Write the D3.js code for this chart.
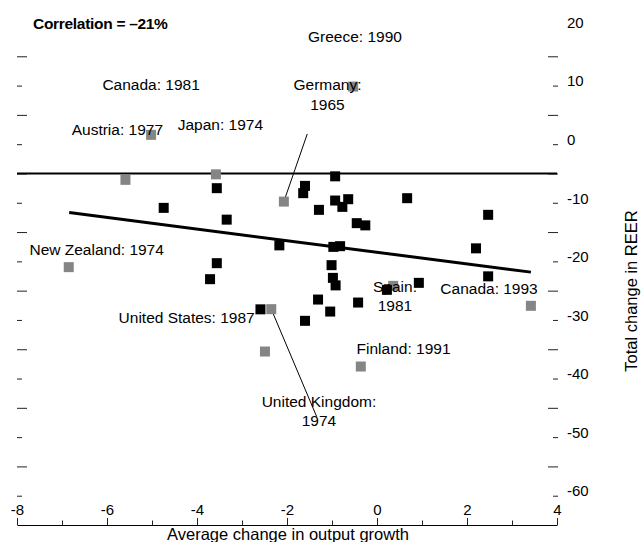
<!DOCTYPE html>
<html><head><meta charset="utf-8">
<script src="https://cdn.jsdelivr.net/npm/d3@7"></script>
<style>
body{margin:0;background:#fff}
text{font-family:"Liberation Sans",Arial,sans-serif;fill:#000}
</style>
</head><body>
<svg id="c" width="643" height="542"></svg>
<script>
// ---- data ----
const blackX = [-4.74,-3.56,-3.34,-3.56,-3.71,-2.59,-2.17,-1.60,-1.64,-1.60,-1.29,-1.31,-1.04,-0.93,-0.93,-0.64,-0.77,-0.45,-0.26,-0.97,-0.82,-1.01,-0.98,-0.92,-0.42,0.22,0.93,0.67,2.47,2.20,2.47];
const blackY = [-10.87,-7.51,-12.88,-20.31,-23.04,-28.19,-17.27,-7.12,-8.36,-30.15,-11.21,-26.52,-28.57,-5.49,-9.62,-9.39,-10.70,-13.48,-13.86,-17.53,-17.41,-20.65,-22.82,-24.10,-27.03,-24.86,-23.67,-9.22,-12.06,-17.78,-22.56];
const grayNames = ["Canada: 1981","Austria: 1977","Japan: 1974","Germany: 1965","Greece: 1990","New Zealand: 1974","United Kingdom: 1974","United States: 1987","Spain: 1981","Finland: 1991","Canada: 1993"];
const grayX = [-5.59,-5.02,-3.58,-2.07,-0.53,-6.85,-2.35,-2.49,0.36,-0.36,3.42];
const grayY = [-6.09,1.59,-5.15,-9.80,9.83,-20.99,-28.16,-35.39,-24.18,-37.95,-27.59];
const trendX = [-6.84, 3.42];
const trendY = [-11.67, -21.84];
const refLineY = -5;
const xTicks = [-8,-6,-4,-2,0,2,4];
const xMinorTicks = [-7,-5,-3,-1,1,3];
const yLabelTicks = [20,10,0,-10,-20,-30,-40,-50,-60];
const ySmallTicks = [10,0,-10,-20,-30,-40,-50,-60];
const yLongTicks = [15,5,-5,-15,-25,-35,-45,-55];
// annotation labels in data coordinates
const labelText = [["Greece: 1990"],["Germany:","1965"],["Canada: 1981"],["Austria: 1977"],["Japan: 1974"],["New Zealand: 1974"],["United States: 1987"],["Spain:","1981"],["Canada: 1993"],["Finland: 1991"],["United Kingdom:","1974"]];
const labelX = [-0.49,-1.10,-5.02,-5.77,-3.48,-6.23,-4.23,0.40,2.49,0.59,-1.29];
const labelY = [18.35,10.10,10.10,2.42,3.28,-17.94,-29.54,-24.32,-24.59,-34.84,-43.95];
// leader lines: [fromX, fromY, toX, toY]
const leaderFromX = [-1.55,-2.35];
const leaderFromY = [1.74,-28.16];
const leaderToX = [-2.07,-1.34];
const leaderToY = [-9.80,-46.51];
const titleText = "Correlation = \u201321%";
const xTitle = "Average change in output growth";
const yTitle = "Total change in REER";

// ---- chart ----
const svg = d3.select("#c");
const x = d3.scaleLinear().domain([-8,4]).range([17,557]);
const y = d3.scaleLinear().domain([-65,20]).range([525,27]);

function tickAxis(axis, tx, vals, size){
  const g = svg.append("g").attr("transform",`translate(${tx},0)`)
    .call(axis(y).tickValues(vals).tickSize(size).tickFormat(""));
  g.select(".domain").remove();
  g.selectAll("line").attr("stroke","#222");
}
tickAxis(d3.axisRight, 17, yLongTicks, 10);
tickAxis(d3.axisRight, 17, ySmallTicks, 5);
tickAxis(d3.axisLeft, 558, yLongTicks, 10);
tickAxis(d3.axisLeft, 558, ySmallTicks, 5);

// right labels
svg.append("g").selectAll("text").data(yLabelTicks).join("text")
  .attr("x",567).attr("y",d=>y(d)-4.5).attr("dy","0.35em")
  .attr("font-size",15).text(d=>String(d));

// x axis
const gx = svg.append("g").attr("transform","translate(0,525)")
  .call(d3.axisTop(x).tickValues(xTicks).tickSize(7).tickSizeOuter(0).tickPadding(3.5).tickFormat(d=>String(d)));
gx.select(".domain").attr("stroke","#000");
gx.selectAll("line").attr("stroke","#222");
gx.selectAll("text").attr("font-size",15).attr("font-family","Liberation Sans, Arial, sans-serif").attr("fill","#000");
const gxm = svg.append("g").attr("transform","translate(0,525)")
  .call(d3.axisTop(x).tickValues(xMinorTicks).tickSize(4.5).tickFormat(""));
gxm.select(".domain").remove();
gxm.selectAll("line").attr("stroke","#222");

// reference line
svg.append("line").attr("x1",x(-8)).attr("x2",x(4))
  .attr("y1",y(refLineY)).attr("y2",y(refLineY))
  .attr("stroke","#000").attr("stroke-width",2);

// trend line
svg.append("line").attr("x1",x(trendX[0])).attr("y1",y(trendY[0]))
  .attr("x2",x(trendX[1])).attr("y2",y(trendY[1]))
  .attr("stroke","#000").attr("stroke-width",3);

// leader lines
svg.append("g").selectAll("line").data(leaderFromX).join("line")
  .attr("x1",(d,i)=>x(d)).attr("y1",(d,i)=>y(leaderFromY[i]))
  .attr("x2",(d,i)=>x(leaderToX[i])).attr("y2",(d,i)=>y(leaderToY[i]))
  .attr("stroke","#000").attr("stroke-width",1);

// points
const S = 10;
svg.append("g").selectAll("rect").data(grayX).join("rect")
  .attr("x",(d)=>x(d)-S/2).attr("y",(d,i)=>y(grayY[i])-S/2)
  .attr("width",S).attr("height",S).attr("fill","#858585");
svg.append("g").selectAll("rect").data(blackX).join("rect")
  .attr("x",(d)=>x(d)-S/2).attr("y",(d,i)=>y(blackY[i])-S/2)
  .attr("width",S).attr("height",S).attr("fill","#000");

// labels
const lg = svg.append("g");
labelText.forEach((lines,i)=>{
  const t = lg.append("text").attr("text-anchor","middle").attr("font-size",15.5)
    .attr("x",x(labelX[i])).attr("y",y(labelY[i]));
  lines.forEach((ln,j)=>{
    t.append("tspan").attr("x",x(labelX[i])).attr("dy", j===0 ? "0.35em" : "1.25em").text(ln);
  });
});

// title
svg.append("text").attr("x",33).attr("y",28.5).attr("font-size",15.5)
  .attr("font-weight","bold").attr("letter-spacing","-0.3").text(titleText);

// axis titles
svg.append("text").attr("x",288).attr("y",539.5).attr("text-anchor","middle")
  .attr("font-size",16.5).text(xTitle);
svg.append("text").attr("transform","translate(637,291) rotate(-90)")
  .attr("text-anchor","middle").attr("font-size",16.5).text(yTitle);
</script>
</body></html>
